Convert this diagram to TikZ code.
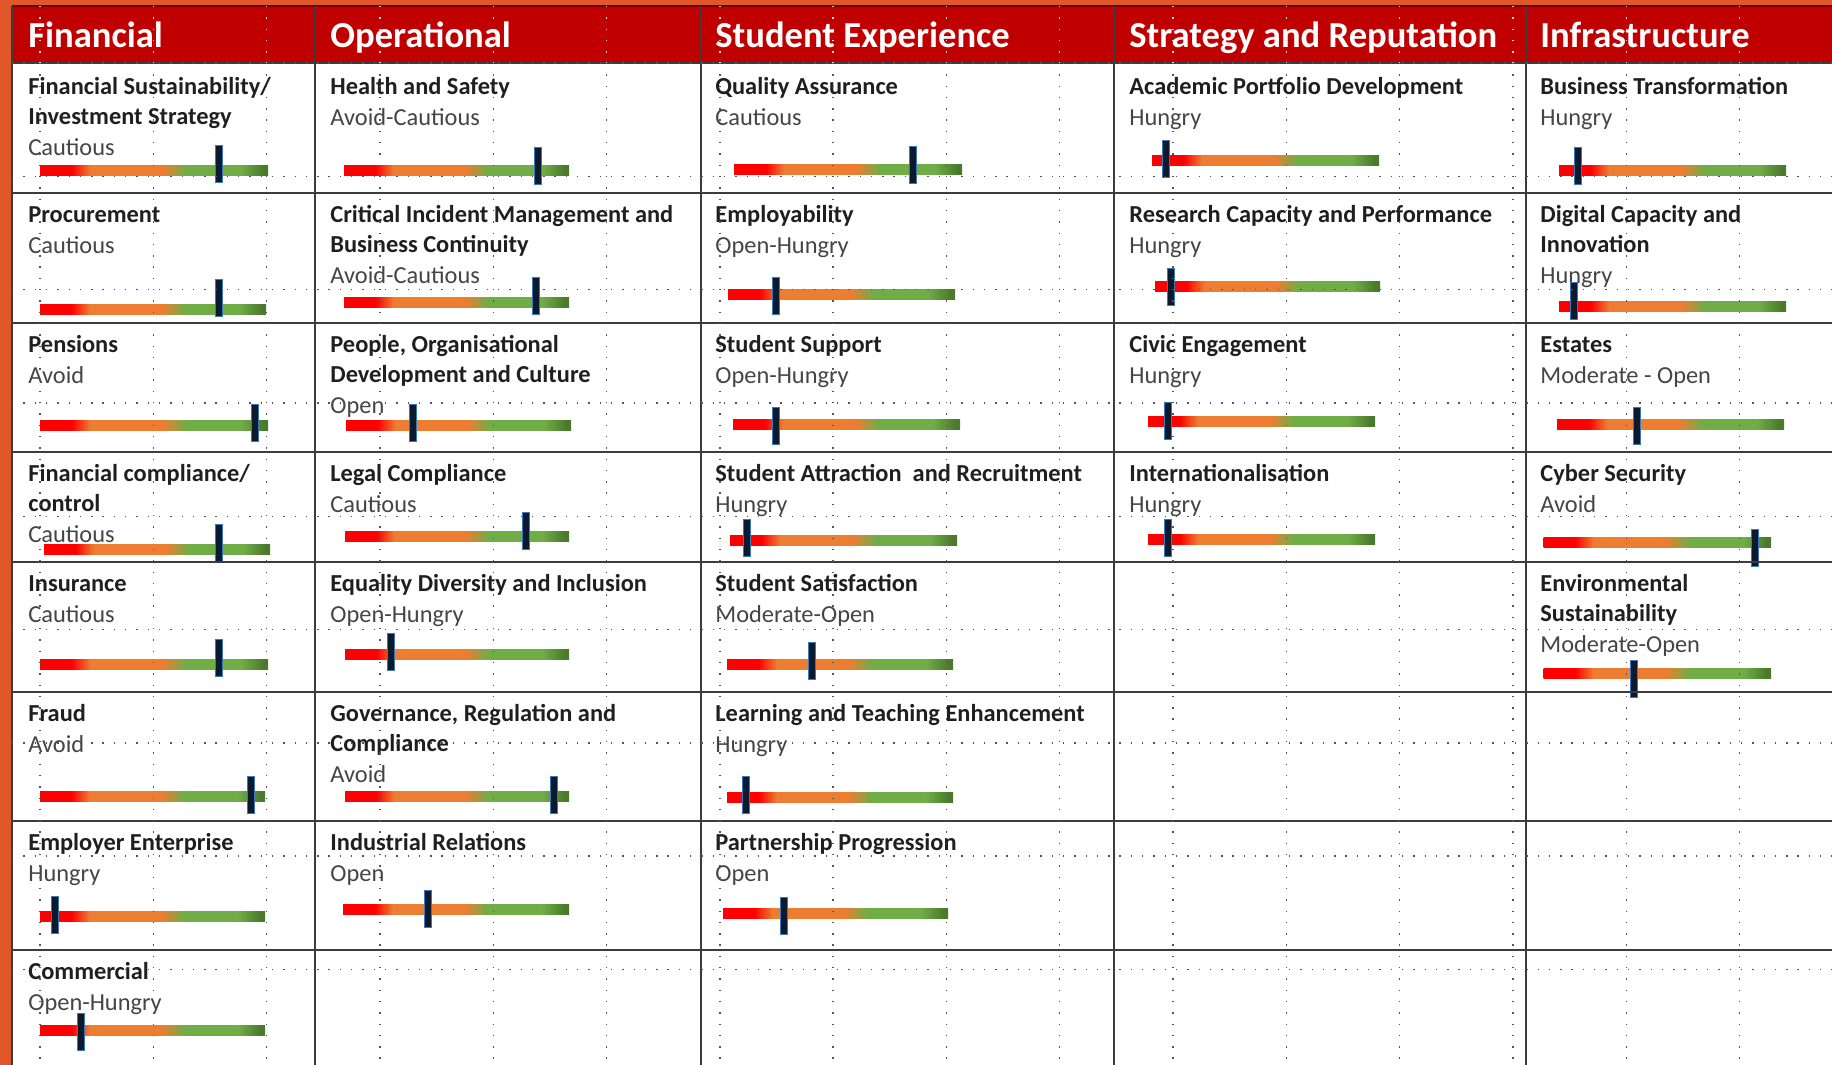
\documentclass[tikz,border=0pt]{standalone}
\usepackage{fontspec}
\setmainfont{Carlito}
\usepackage{tikz}
\usetikzlibrary{calc}

\definecolor{bgorange}{HTML}{E2572A}
\definecolor{headred}{HTML}{C00000}
\definecolor{barred}{HTML}{FF0000}
\definecolor{barorange}{HTML}{ED7D31}
\definecolor{bargreen}{HTML}{70AD47}
\definecolor{bardkgreen}{HTML}{4B7A2C}
\definecolor{markfill}{HTML}{0B1A2E}
\definecolor{markedge}{HTML}{3A78B8}
\definecolor{titletext}{HTML}{1F1F1F}
\definecolor{labeltext}{HTML}{454545}
\definecolor{ruleline}{HTML}{3C3C3C}
\definecolor{dotgray}{HTML}{555555}
\definecolor{headdot}{HTML}{C8E0E8}

\pgfdeclarehorizontalshading{appetite}{100bp}{color(0bp)=(barred); color(25bp)=(barred); color(32bp)=(barred); color(36bp)=(barorange); color(52bp)=(barorange); color(57bp)=(bargreen); color(69bp)=(bargreen); color(74bp)=(bardkgreen); color(100bp)=(bardkgreen)}

\begin{document}
\begin{tikzpicture}[x=0.5pt, y=-0.5pt,
    heading/.style={anchor=base west, inner sep=0pt, text=white, font=\fontsize{18.3}{22}\selectfont\bfseries},
    risktitle/.style={anchor=north west, inner sep=0pt, align=left, text=titletext, font=\fontsize{12.2}{15}\selectfont\bfseries, execute at begin node=\strut, execute at end node=\strut},
    risklevel/.style={anchor=north west, inner sep=0pt, text=labeltext, font=\fontsize{12.2}{15}\selectfont, execute at begin node=\strut},
    appbar/.style={shading=appetite},
    slider/.style={fill=markfill, draw=markedge, line width=0.5pt},
    tablerule/.style={draw=ruleline, line width=1.1pt},
    griddots/.style={draw=dotgray, line width=0.7pt, dash pattern=on 0.7pt off 4.95pt}]
    \useasboundingbox (0,0) rectangle (1832,1065);
    \fill[bgorange] (0,0) rectangle (1832,1065);
    \fill[white] (12,6) rectangle (1832,1065);
    \fill[headred] (12,6) rectangle (1832,63);
    \draw[headred!60!black, line width=0.8pt] (12,6) -- (1832,6);

    % column headings
    \node[heading] (hfin) at (28,47.5) {Financial};
    \node[heading] (hops) at (330,47.5) {Operational};
    \node[heading] (hstu) at (715,47.5) {Student Experience};
    \node[heading] (hstr) at (1129,47.5) {Strategy and Reputation};
    \node[heading] (hinf) at (1540,47.5) {Infrastructure};

    % Financial
    \node[risktitle] (fin1) at (28,73.5) {\strut Financial Sustainability/\\Investment Strategy};
    \node[risklevel] (fin1l) at (fin1.south west) {Cautious};
    \node[risktitle] (fin2) at (28,201.5) {Procurement};
    \node[risklevel] (fin2l) at (fin2.south west) {Cautious};
    \node[risktitle] (fin3) at (28,331.5) {Pensions};
    \node[risklevel] (fin3l) at (fin3.south west) {Avoid};
    \node[risktitle] (fin4) at (28,460.5) {\strut Financial compliance/\\control};
    \node[risklevel] (fin4l) at (fin4.south west) {Cautious};
    \node[risktitle] (fin5) at (28,570.5) {Insurance};
    \node[risklevel] (fin5l) at (fin5.south west) {Cautious};
    \node[risktitle] (fin6) at (28,700.5) {Fraud};
    \node[risklevel] (fin6l) at (fin6.south west) {Avoid};
    \node[risktitle] (fin7) at (28,829.5) {Employer Enterprise};
    \node[risklevel] (fin7l) at (fin7.south west) {Hungry};
    \node[risktitle] (fin8) at (28,958.5) {Commercial};
    \node[risklevel] (fin8l) at (fin8.south west) {Open-Hungry};
    \shade[appbar] (40,165.5) rectangle ++(228,10);
    \shade[appbar] (40,304.5) rectangle ++(226,10);
    \shade[appbar] (40,420.5) rectangle ++(228,10);
    \shade[appbar] (44,544.5) rectangle ++(226,10);
    \shade[appbar] (40,659.5) rectangle ++(228,10);
    \shade[appbar] (40,791.5) rectangle ++(225,10);
    \shade[appbar] (40,911.5) rectangle ++(225,10);
    \shade[appbar] (40,1025.5) rectangle ++(225,10);
    \path[slider] (218.5,146) ++(-3.5,0) rectangle ++(7,37);
    \path[slider] (218.5,279) ++(-3.5,0) rectangle ++(7,37);
    \path[slider] (255,404) ++(-3.5,0) rectangle ++(7,37);
    \path[slider] (218.5,524) ++(-3.5,0) rectangle ++(7,37);
    \path[slider] (218.5,639) ++(-3.5,0) rectangle ++(7,37);
    \path[slider] (251,776) ++(-3.5,0) rectangle ++(7,37);
    \path[slider] (55,896) ++(-3.5,0) rectangle ++(7,37);
    \path[slider] (81,1013) ++(-3.5,0) rectangle ++(7,37);

    % Operational
    \node[risktitle] (ops1) at (330,73.5) {Health and Safety};
    \node[risklevel] (ops1l) at (ops1.south west) {Avoid-Cautious};
    \node[risktitle] (ops2) at (330,201.5) {\strut Critical Incident Management and\\Business Continuity};
    \node[risklevel] (ops2l) at (ops2.south west) {Avoid-Cautious};
    \node[risktitle] (ops3) at (330,331.5) {\strut People, Organisational\\Development and Culture};
    \node[risklevel] (ops3l) at (ops3.south west) {Open};
    \node[risktitle] (ops4) at (330,460.5) {Legal Compliance};
    \node[risklevel] (ops4l) at (ops4.south west) {Cautious};
    \node[risktitle] (ops5) at (330,570.5) {Equality Diversity and Inclusion};
    \node[risklevel] (ops5l) at (ops5.south west) {Open-Hungry};
    \node[risktitle] (ops6) at (330,700.5) {\strut Governance, Regulation and\\Compliance};
    \node[risklevel] (ops6l) at (ops6.south west) {Avoid};
    \node[risktitle] (ops7) at (330,829.5) {Industrial Relations};
    \node[risklevel] (ops7l) at (ops7.south west) {Open};
    \shade[appbar] (344,165.5) rectangle ++(225,10);
    \shade[appbar] (344,297.5) rectangle ++(225,10);
    \shade[appbar] (346,420.5) rectangle ++(225,10);
    \shade[appbar] (345,531.5) rectangle ++(224,10);
    \shade[appbar] (345,649.5) rectangle ++(224,10);
    \shade[appbar] (345,791.5) rectangle ++(224,10);
    \shade[appbar] (343,904.5) rectangle ++(226,10);
    \path[slider] (537.5,148) ++(-3.5,0) rectangle ++(7,37);
    \path[slider] (536,277) ++(-3.5,0) rectangle ++(7,37);
    \path[slider] (412.7,404) ++(-3.5,0) rectangle ++(7,37);
    \path[slider] (526,512) ++(-3.5,0) rectangle ++(7,37);
    \path[slider] (390.7,633) ++(-3.5,0) rectangle ++(7,37);
    \path[slider] (553.8,776) ++(-3.5,0) rectangle ++(7,37);
    \path[slider] (427.7,890) ++(-3.5,0) rectangle ++(7,37);

    % Student Experience
    \node[risktitle] (stu1) at (715,73.5) {Quality Assurance};
    \node[risklevel] (stu1l) at (stu1.south west) {Cautious};
    \node[risktitle] (stu2) at (715,201.5) {Employability};
    \node[risklevel] (stu2l) at (stu2.south west) {Open-Hungry};
    \node[risktitle] (stu3) at (715,331.5) {Student Support};
    \node[risklevel] (stu3l) at (stu3.south west) {Open-Hungry};
    \node[risktitle] (stu4) at (715,460.5) {Student Attraction \ and Recruitment};
    \node[risklevel] (stu4l) at (stu4.south west) {Hungry};
    \node[risktitle] (stu5) at (715,570.5) {Student Satisfaction};
    \node[risklevel] (stu5l) at (stu5.south west) {Moderate-Open};
    \node[risktitle] (stu6) at (715,700.5) {Learning and Teaching Enhancement};
    \node[risklevel] (stu6l) at (stu6.south west) {Hungry};
    \node[risktitle] (stu7) at (715,829.5) {Partnership Progression};
    \node[risklevel] (stu7l) at (stu7.south west) {Open};
    \shade[appbar] (734,164.5) rectangle ++(228,10);
    \shade[appbar] (728,289.5) rectangle ++(227,10);
    \shade[appbar] (733,419) rectangle ++(227,10);
    \shade[appbar] (730,535.5) rectangle ++(227,10);
    \shade[appbar] (727,659.5) rectangle ++(226,10);
    \shade[appbar] (727,792) rectangle ++(226,10);
    \shade[appbar] (723,908.5) rectangle ++(225,10);
    \path[slider] (912.6,147) ++(-3.5,0) rectangle ++(7,37);
    \path[slider] (775.8,277) ++(-3.5,0) rectangle ++(7,37);
    \path[slider] (776.3,407) ++(-3.5,0) rectangle ++(7,37);
    \path[slider] (747,519) ++(-3.5,0) rectangle ++(7,37);
    \path[slider] (811.7,642) ++(-3.5,0) rectangle ++(7,37);
    \path[slider] (746,776) ++(-3.5,0) rectangle ++(7,37);
    \path[slider] (784.3,897) ++(-3.5,0) rectangle ++(7,37);

    % Strategy and Reputation
    \node[risktitle] (str1) at (1129,73.5) {Academic Portfolio Development};
    \node[risklevel] (str1l) at (str1.south west) {Hungry};
    \node[risktitle] (str2) at (1129,201.5) {Research Capacity and Performance};
    \node[risklevel] (str2l) at (str2.south west) {Hungry};
    \node[risktitle] (str3) at (1129,331.5) {Civic Engagement};
    \node[risklevel] (str3l) at (str3.south west) {Hungry};
    \node[risktitle] (str4) at (1129,460.5) {Internationalisation};
    \node[risklevel] (str4l) at (str4.south west) {Hungry};
    \shade[appbar] (1152,155.5) rectangle ++(227,10);
    \shade[appbar] (1155,281.5) rectangle ++(225,10);
    \shade[appbar] (1148,416.5) rectangle ++(227,10);
    \shade[appbar] (1148,534.5) rectangle ++(227,10);
    \path[slider] (1166,141) ++(-3.5,0) rectangle ++(7,37);
    \path[slider] (1170.6,268) ++(-3.5,0) rectangle ++(7,37);
    \path[slider] (1168.3,402) ++(-3.5,0) rectangle ++(7,37);
    \path[slider] (1168.3,519) ++(-3.5,0) rectangle ++(7,37);

    % Infrastructure
    \node[risktitle] (inf1) at (1540,73.5) {Business Transformation};
    \node[risklevel] (inf1l) at (inf1.south west) {Hungry};
    \node[risktitle] (inf2) at (1540,201.5) {\strut Digital Capacity and\\Innovation};
    \node[risklevel] (inf2l) at (inf2.south west) {Hungry};
    \node[risktitle] (inf3) at (1540,331.5) {Estates};
    \node[risklevel] (inf3l) at (inf3.south west) {Moderate - Open};
    \node[risktitle] (inf4) at (1540,460.5) {Cyber Security};
    \node[risklevel] (inf4l) at (inf4.south west) {Avoid};
    \node[risktitle] (inf5) at (1540,570.5) {\strut Environmental\\Sustainability};
    \node[risklevel] (inf5l) at (inf5.south west) {Moderate-Open};
    \shade[appbar] (1559,165.5) rectangle ++(227,10);
    \shade[appbar] (1559,301.5) rectangle ++(227,10);
    \shade[appbar] (1557,419.5) rectangle ++(227,10);
    \shade[appbar] (1543.5,537) rectangle ++(227.5,10);
    \shade[appbar] (1543.5,668) rectangle ++(227.5,10);
    \path[slider] (1578.3,148) ++(-3.5,0) rectangle ++(7,37);
    \path[slider] (1573.7,282) ++(-3.5,0) rectangle ++(7,37);
    \path[slider] (1636.6,407) ++(-3.5,0) rectangle ++(7,37);
    \path[slider] (1754.7,529) ++(-3.5,0) rectangle ++(7,37);
    \path[slider] (1634.2,660) ++(-3.5,0) rectangle ++(7,37);

    % table rules
    \foreach \cx in {12,315,701,1114,1526}
        \draw[tablerule] (\cx,6) -- (\cx,1065);
    \foreach \ry in {63,193,323,452,562,692,821,950}
        \draw[tablerule] (12,\ry) -- (1832,\ry);

    % dotted guides
    \foreach \gx in {0,...,15} {
        \draw[griddots] ({40+113.3*\gx},63) -- ({40+113.3*\gx},1065);
        \draw[griddots, draw=headdot] ({40+113.3*\gx},6) -- ({40+113.3*\gx},63);
    }
    \foreach \gy in {0,...,8}
        \draw[griddots] (12,{63+113.3*\gy}) -- (1832,{63+113.3*\gy});
\end{tikzpicture}
\end{document}
